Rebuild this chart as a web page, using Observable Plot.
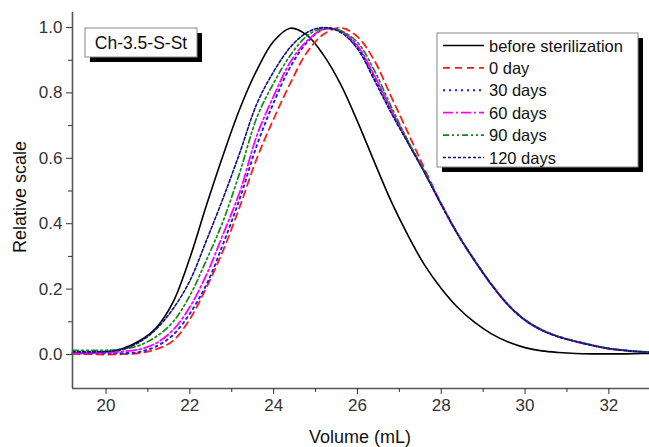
<!DOCTYPE html>
<html><head><meta charset="utf-8">
<script src="https://cdn.jsdelivr.net/npm/d3@7"></script>
<script src="https://cdn.jsdelivr.net/npm/@observablehq/plot@0.6"></script>
<style>body{margin:0;background:#fff;} svg{display:block}</style>
</head><body><div id="chart"></div>
<script>
// Elution volume grid (mL)
const volume = [19.2,19.6,20.0,20.4,20.8,21.2,21.6,22.0,22.4,22.8,23.2,23.6,24.0,24.4,24.8,25.2,25.6,26.0,26.4,26.8,27.2,27.6,28.0,28.4,28.8,29.2,29.6,30.0,30.4,30.8,31.2,31.6,32.0,32.4,32.8,33.0];
const beforeSterilization = [0.003,0.004,0.008,0.018,0.042,0.082,0.16,0.295,0.458,0.612,0.754,0.87,0.958,0.998,0.976,0.914,0.826,0.713,0.59,0.47,0.366,0.274,0.202,0.143,0.098,0.063,0.038,0.021,0.011,0.006,0.003,0.002,0.002,0.002,0.003,0.003];
const day0   = [0.002,0.001,0.0,0.001,0.004,0.016,0.042,0.108,0.206,0.32,0.455,0.6,0.72,0.83,0.925,0.98,0.999,0.972,0.9,0.79,0.68,0.568,0.462,0.368,0.288,0.215,0.152,0.106,0.076,0.055,0.041,0.028,0.018,0.012,0.008,0.007];
const day30  = [0.004,0.004,0.004,0.004,0.008,0.025,0.06,0.125,0.215,0.34,0.48,0.64,0.77,0.88,0.955,0.995,0.99,0.94,0.85,0.748,0.652,0.558,0.46,0.367,0.287,0.214,0.151,0.105,0.075,0.055,0.04,0.028,0.018,0.012,0.008,0.007];
const day60  = [0.005,0.005,0.006,0.009,0.016,0.035,0.075,0.145,0.245,0.37,0.5,0.67,0.79,0.895,0.96,0.995,0.99,0.945,0.855,0.75,0.652,0.558,0.459,0.366,0.286,0.213,0.151,0.105,0.074,0.054,0.04,0.028,0.018,0.012,0.008,0.007];
const day90  = [0.013,0.013,0.013,0.016,0.028,0.055,0.1,0.18,0.29,0.41,0.56,0.725,0.83,0.915,0.975,0.998,0.99,0.955,0.87,0.76,0.655,0.56,0.46,0.367,0.287,0.214,0.152,0.106,0.075,0.055,0.041,0.029,0.019,0.013,0.009,0.008];
const day120 = [0.008,0.008,0.009,0.016,0.038,0.078,0.14,0.225,0.35,0.48,0.62,0.767,0.865,0.94,0.985,1.0,0.985,0.935,0.84,0.74,0.648,0.556,0.458,0.366,0.286,0.213,0.151,0.105,0.074,0.054,0.04,0.028,0.018,0.012,0.008,0.007];
const seriesNames = ["before sterilization","0 day","30 days","60 days","90 days","120 days"];
const seriesValues = [beforeSterilization, day0, day30, day60, day90, day120];
const xTicks = [20,22,24,26,28,30,32];
const xMinorTicks = [21,23,25,27,29,31];
const yTicks = [0,0.2,0.4,0.6,0.8,1.0];
const yMinorTicks = [0.1,0.3,0.5,0.7,0.9];
const panelLabel = "Ch-3.5-S-St";
const xLabel = "Volume (mL)";
const yLabel = "Relative scale";

// styles (kept apart from data)
const styles = [
  {stroke:"#000000", dash:null, w:1.6},
  {stroke:"#ff1a1a", dash:"7,5", w:1.8},
  {stroke:"#1a1aff", dash:"2,4", w:1.9},
  {stroke:"#ff00ff", dash:"10,3,2,3", w:1.8},
  {stroke:"#108a10", dash:"6,3,2,3,2,3", w:1.7},
  {stroke:"#101080", dash:"3,2", w:1.6}
];

const rows = seriesNames.map((name, i) => volume.map((x, j) => ({x, v: seriesValues[i][j], name})));

const X0 = 19.2, X1 = 32.97, Y0 = -0.104, Y1 = 1.046;
const font = "'Liberation Sans', Arial, sans-serif";
const lineMarks = rows.map((d, i) => Plot.line(d, {
  x: "x", y: "v", stroke: styles[i].stroke, strokeWidth: styles[i].w,
  strokeDasharray: styles[i].dash, curve: "catmull-rom"
}));
const plot = Plot.plot({
  width: 649, height: 447,
  marginLeft: 72, marginRight: 0, marginTop: 12, marginBottom: 59,
  x: {domain: [X0, X1]},
  y: {domain: [Y0, Y1]},
  style: {fontFamily: font, background: "#fff", overflow: "visible"},
  marks: [
    ...lineMarks,
    Plot.ruleX([X0], {stroke: "#555", strokeWidth: 1.6}),
    Plot.ruleY([Y0], {stroke: "#555", strokeWidth: 1.6}),
    Plot.axisX({ticks: xTicks, tickSize: 6, tickPadding: 4, fontSize: 17, color: "#333", label: null, tickFormat: d3.format("d")}),
    Plot.axisX({ticks: xMinorTicks, tickSize: 4, text: null, color: "#333", label: null}),
    Plot.axisY({ticks: yTicks, tickSize: 6, tickPadding: 4, fontSize: 17, color: "#333", label: null, tickFormat: d3.format(".1f")}),
    Plot.axisY({ticks: yMinorTicks, tickSize: 4, text: null, color: "#333", label: null})
  ]
});
document.getElementById("chart").appendChild(plot);

const svg = d3.select(plot);
function addText(sel, x, y, size, anchor, txt) {
  return sel.append("text").attr("x", x).attr("y", y)
    .style("font-size", size + "px").style("font-family", font)
    .style("text-anchor", anchor).style("fill", "#111").text(txt);
}
// axis titles
addText(svg, 360, 443, 18, "middle", xLabel);
svg.append("text").attr("transform", "translate(26,197) rotate(-90)")
  .style("text-anchor", "middle").style("font-size", "18px").style("font-family", font)
  .style("fill", "#111").text(yLabel);

// panel label box
const pb = svg.append("g");
pb.append("rect").attr("x", 90).attr("y", 33).attr("width", 112).attr("height", 29).attr("fill", "#000");
pb.append("rect").attr("x", 85).attr("y", 28).attr("width", 112).attr("height", 29).attr("fill", "#fff").attr("stroke", "#888").attr("stroke-width", 1);
addText(pb, 141, 48.5, 17.5, "middle", panelLabel);

// legend
const lg = svg.append("g");
lg.append("rect").attr("x", 442).attr("y", 38).attr("width", 201).attr("height", 134).attr("fill", "#000");
lg.append("rect").attr("x", 437).attr("y", 33).attr("width", 201).attr("height", 134).attr("fill", "#fff").attr("stroke", "#888").attr("stroke-width", 1);
seriesNames.forEach((name, i) => {
  const cy = 45.5 + i * 22.4;
  lg.append("line").attr("x1", 443).attr("x2", 484).attr("y1", cy).attr("y2", cy)
    .attr("stroke", styles[i].stroke).attr("stroke-width", styles[i].w)
    .attr("stroke-dasharray", styles[i].dash);
  addText(lg, 489, cy + 6, 16.5, "start", name);
});
</script>
</body></html>
